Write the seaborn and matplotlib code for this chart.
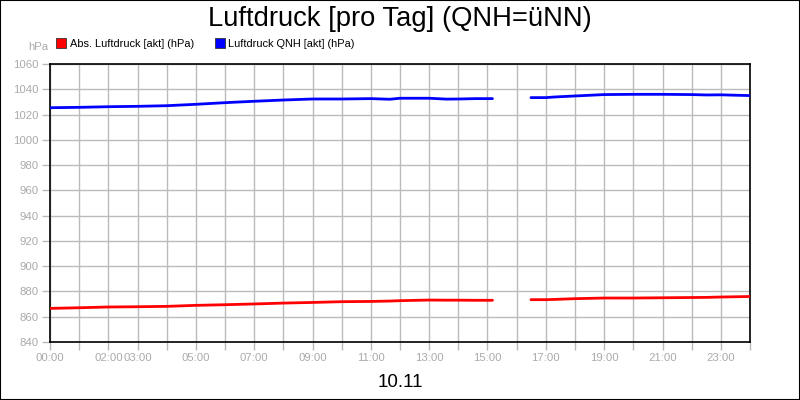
import seaborn as sns
import matplotlib.pyplot as plt
import pandas as pd
import numpy as np
from matplotlib.lines import Line2D
from matplotlib.patches import Rectangle

# Stunden + Werte, Lücke 15:10 - 16:30
hours_a = [0, 1, 2, 3, 4, 5, 6, 7, 8, 9, 10, 11, 11.65, 12, 13, 13.6, 14, 14.6, 15.17]
qnh_a = [1025.4, 1025.7, 1026.2, 1026.5, 1027.0, 1028.1, 1029.4, 1030.5, 1031.5, 1032.3,
         1032.3, 1032.6, 1032.1, 1032.9, 1032.9, 1032.2, 1032.3, 1032.6, 1032.6]
abs_a = [866.6, 867.1, 867.7, 867.9, 868.2, 869.0, 869.5, 870.1, 870.8, 871.3,
         871.9, 872.1, 872.4, 872.7, 873.2, 873.1, 873.1, 873.0, 873.0]

hours_b = [16.49, 17, 17.3, 18, 19, 20, 21, 22, 22.5, 23, 24]
qnh_b = [1033.4, 1033.4, 1033.9, 1034.7, 1035.8, 1036.0, 1036.0, 1035.8, 1035.5, 1035.6, 1035.0]
abs_b = [873.5, 873.5, 873.7, 874.3, 874.8, 874.8, 875.0, 875.2, 875.3, 875.6, 876.0]

series = ["Abs. Luftdruck [akt] (hPa)", "Luftdruck QNH [akt] (hPa)"]
colors = ["#ff0000", "#0000ff"]
tick_hours = list(range(0, 25))
tick_labels = ["00:00", "", "02:00", "03:00", "", "05:00", "", "07:00", "", "09:00", "",
               "11:00", "", "13:00", "", "15:00", "", "17:00", "", "19:00", "", "21:00", "",
               "23:00", ""]

rows = []
for seg, (h, a, q) in enumerate([(hours_a, abs_a, qnh_a), (hours_b, abs_b, qnh_b)]):
    for i in range(len(h)):
        rows.append({"h": h[i], "val": a[i], "serie": series[0], "seg": seg})
        rows.append({"h": h[i], "val": q[i], "serie": series[1], "seg": seg})
df = pd.DataFrame(rows)

sns.set_style("white")
plt.rcParams['font.family'] = ['Liberation Sans', 'DejaVu Sans']
plt.rcParams['text.color'] = 'black'

fig = plt.figure(figsize=(8, 4), dpi=100)
ax = fig.add_axes([50 / 800, 1 - 342 / 400, 700 / 800, 278 / 400])

sns.lineplot(data=df, x="h", y="val", hue="serie", units="seg", estimator=None,
             palette=colors, hue_order=series, linewidth=2.0, ax=ax, legend=False, zorder=3)

grid_c = "#bbbbbb"
lab_c = "#aaaaaa"
ax.set_xlim(0, 24)
ax.set_ylim(840, 1060)
ax.set_xticks(tick_hours)
ax.set_xticklabels(tick_labels)
ax.set_yticks(np.arange(840, 1061, 20))
ax.grid(True, color=grid_c, linewidth=1)
ax.tick_params(axis="both", direction="out", length=6, width=1, color=grid_c,
               labelcolor=lab_c, labelsize=8.2, pad=2, bottom=True, left=True)
for s in ax.spines.values():
    s.set_color("black")
    s.set_linewidth(1.2)

ax.set_xlabel("10.11", fontsize=13.5, color="black", labelpad=8)
ax.set_ylabel("")
fig.text(38 / 800, 1 - 47 / 400, "hPa", ha="center", va="center", color=lab_c, fontsize=8.2)

fig.suptitle("Luftdruck [pro Tag] (QNH=üNN)", fontsize=19.7, color="black",
             y=1 - 19 / 400, va="center")

handles = [Line2D([], [], marker="s", linestyle="none", markersize=6.5,
                  markerfacecolor=c, markeredgecolor="#333333", markeredgewidth=0.6)
           for c in colors]
fig.legend(handles, series, loc="center left", bbox_to_anchor=(57 / 800, 1 - 44 / 400),
           ncol=2, frameon=False, fontsize=7.9, handlelength=0.8, handletextpad=0.35,
           columnspacing=2.0, borderaxespad=0, borderpad=0, labelcolor="black")

fig.patches.append(Rectangle((0, 0), 1, 1, transform=fig.transFigure, fill=False,
                             edgecolor="black", linewidth=1.5, zorder=10))

fig.savefig("out.png", dpi=100, facecolor="white")
